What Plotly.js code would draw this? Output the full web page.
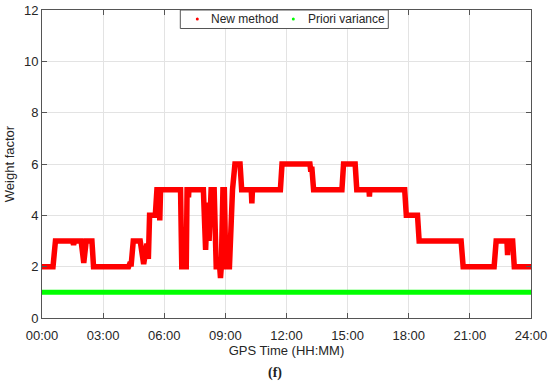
<!DOCTYPE html>
<html>
<head>
<meta charset="utf-8">
<script src="https://cdn.plot.ly/plotly-3.0.1.min.js"></script>
<style>html,body{margin:0;padding:0;background:#fff;}#chart{width:550px;height:384px;}</style>
</head>
<body>
<div id="chart"></div>
<script>
// GPS time (hours) and weight factor of the "New method" series (breakpoints)
const newMethodTime = [0, 0.54, 0.66, 1.50, 1.55, 1.60, 1.92, 2.05, 2.17, 2.45, 2.53, 4.25, 4.30, 4.38, 4.48, 4.82, 4.99, 5.10, 5.15, 5.22, 5.28, 5.56, 5.64, 5.75, 5.78, 5.82, 6.80, 6.86, 7.08, 7.12, 7.17, 7.19, 7.21, 7.92, 8.03, 8.12, 8.20, 8.30, 8.45, 8.55, 8.72, 8.76, 8.80, 8.88, 8.95, 9.02, 9.20, 9.35, 9.47, 9.72, 9.80, 10.27, 10.30, 10.33, 11.70, 11.78, 13.15, 13.18, 13.25, 13.33, 14.72, 14.80, 15.37, 15.45, 16.05, 16.07, 16.09, 17.80, 17.88, 18.43, 18.51, 20.57, 20.67, 22.19, 22.29, 22.82, 22.85, 22.88, 23.10, 23.18, 24];
const newMethodValue = [2, 2, 3, 3, 2.85, 3, 3, 2.15, 3, 3, 2, 2, 2.1, 2.1, 3, 3, 2.1, 2.9, 2.9, 2.3, 4, 4, 5, 5, 3.8, 5, 5, 2, 2, 5, 5, 4.7, 5, 5, 2.65, 4.5, 3.0, 5, 5, 2, 2, 1.56, 2, 5, 5, 2, 2, 5, 6, 6, 5, 5, 4.47, 5, 5, 6, 6, 5.8, 5.8, 5, 5, 6, 6, 5, 5, 4.73, 5, 5, 4, 4, 3, 3, 2, 2, 3, 3, 2.45, 3, 3, 2, 2];
// Priori variance series
const prioriTime = [0, 24];
const prioriValue = [1, 1];
// Axis ticks
const xTickVals = [0, 3, 6, 9, 12, 15, 18, 21, 24];
const xTickText = ['00:00', '03:00', '06:00', '09:00', '12:00', '15:00', '18:00', '21:00', '24:00'];
const yTickVals = [0, 2, 4, 6, 8, 10, 12];
// Legend entries
const legendNames = ['New method', 'Priori variance'];
const legendColors = ['#ff0000', '#00ff00'];

const font = {family: '"Liberation Sans", Arial, sans-serif', size: 13, color: '#262626'};
const legendFont = {family: '"Liberation Sans", Arial, sans-serif', size: 12, color: '#262626'};

const traces = [
  {x: newMethodTime, y: newMethodValue, type: 'scatter', mode: 'lines', name: legendNames[0],
   line: {color: legendColors[0], width: 5.5}, showlegend: false, hoverinfo: 'skip'},
  {x: prioriTime, y: prioriValue, type: 'scatter', mode: 'lines', name: legendNames[1],
   line: {color: legendColors[1], width: 5}, showlegend: false, hoverinfo: 'skip'}
];

const axisCommon = {
  showline: true, linecolor: '#555555', linewidth: 1, mirror: 'ticks',
  ticks: 'inside', ticklen: 5, tickcolor: '#555555',
  showgrid: true, gridcolor: '#e3e3e3', gridwidth: 1, zeroline: false,
  tickfont: font
};

// plot area in pixels: left 41.7, right 530.7, top 10, bottom 318
const L = 41.7, W = 489, B = 318, H = 308;
const px = v => (v - L) / W;
const py = v => (B - v) / H;

const shapes = [
  {type: 'rect', xref: 'paper', yref: 'paper', x0: px(180), x1: px(388), y0: py(28.5), y1: py(10),
   fillcolor: '#ffffff', line: {color: '#555555', width: 1}, layer: 'above'},
  {type: 'circle', xref: 'paper', yref: 'paper', x0: px(195.5), x1: px(198.5), y0: py(20.5), y1: py(17.5),
   fillcolor: legendColors[0], line: {width: 0}, layer: 'above'},
  {type: 'circle', xref: 'paper', yref: 'paper', x0: px(291.5), x1: px(294.5), y0: py(20.5), y1: py(17.5),
   fillcolor: legendColors[1], line: {width: 0}, layer: 'above'}
];

const annotations = [
  {text: legendNames[0], xref: 'paper', yref: 'paper', x: px(209), y: py(19), xanchor: 'left', yanchor: 'middle',
   showarrow: false, font: legendFont},
  {text: legendNames[1], xref: 'paper', yref: 'paper', x: px(306), y: py(19), xanchor: 'left', yanchor: 'middle',
   showarrow: false, font: legendFont},
  {text: '<b>(f)</b>', xref: 'paper', yref: 'paper', x: px(275), y: 0,
   yshift: -55, showarrow: false, xanchor: 'center', yanchor: 'middle',
   font: {family: '"Liberation Serif", "Times New Roman", serif', size: 14, color: '#222'}}
];

const layout = {
  width: 550, height: 384,
  margin: {l: L, r: 550 - L - W, t: 10, b: 384 - B},
  paper_bgcolor: '#ffffff', plot_bgcolor: '#ffffff',
  font: font,
  showlegend: false,
  xaxis: Object.assign({}, axisCommon, {
    range: [0, 24], tickvals: xTickVals, ticktext: xTickText, ticklabelstandoff: 5,
    title: {text: 'GPS Time (HH:MM)', font: font, standoff: 4}
  }),
  yaxis: Object.assign({}, axisCommon, {
    range: [0, 12], tickvals: yTickVals,
    title: {text: 'Weight factor', font: font, standoff: 6}
  }),
  shapes: shapes,
  annotations: annotations
};

Plotly.newPlot('chart', traces, layout, {displayModeBar: false, staticPlot: true});
</script>
</body>
</html>
